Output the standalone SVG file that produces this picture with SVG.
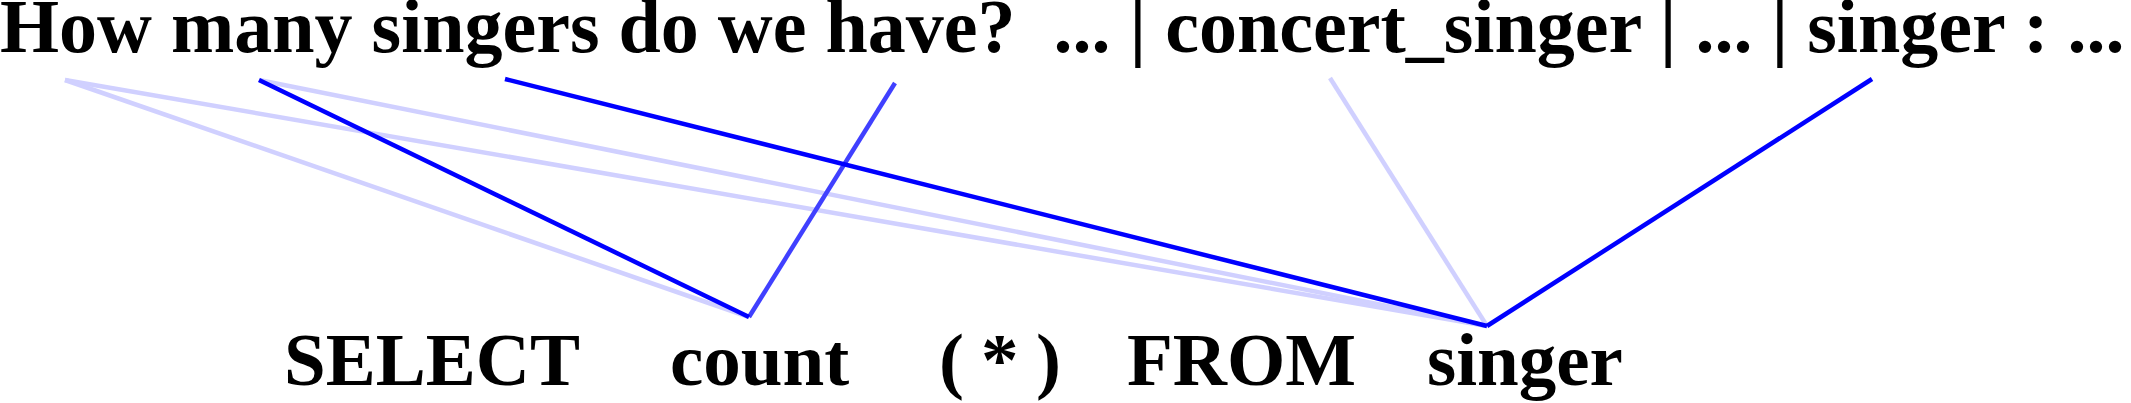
<svg xmlns="http://www.w3.org/2000/svg" width="2131" height="403" viewBox="0 0 2131 403">
<style>
text{font-family:"Liberation Serif","Times New Roman",serif;font-weight:bold;font-size:76px;fill:#000}
.b{font-size:75px}
line{stroke-width:4.5;stroke-linecap:butt}
.s{stroke:#0000ff}
.m{stroke:#4040ff}
.l{stroke:#d0d0ff}
</style>
<rect width="2131" height="403" fill="#fff"/>
<g id="connectors">
<line class="l" x1="65" y1="80" x2="749" y2="317"/>
<line class="l" x1="65" y1="80" x2="1487" y2="326"/>
<line class="l" x1="259" y1="80" x2="1487" y2="326"/>
<line class="l" x1="1330" y1="78" x2="1487" y2="326"/>
<line class="m" x1="895" y1="83" x2="749" y2="317"/>
<line class="s" x1="259" y1="80" x2="749" y2="317"/>
<line class="s" x1="505" y1="79" x2="1487" y2="326"/>
<line class="s" x1="1872" y1="79" x2="1487" y2="326"/>
</g>
<g id="question">
<text x="0" y="52" xml:space="preserve">How many singers do we have?  ... | concert_singer | ... | singer : ...</text>
</g>
<g id="sql">
<text class="b" id="t-select" x="284" y="385">SELECT</text>
<text class="b" id="t-count" x="670" y="385">count</text>
<text class="b" id="t-lparen" x="939" y="385">(</text>
<text class="b" id="t-star" x="981" y="385">*</text>
<text class="b" id="t-rparen" x="1036" y="385">)</text>
<text class="b" id="t-from" x="1127" y="385">FROM</text>
<text class="b" id="t-singer" x="1427" y="385">singer</text>
</g>
</svg>
